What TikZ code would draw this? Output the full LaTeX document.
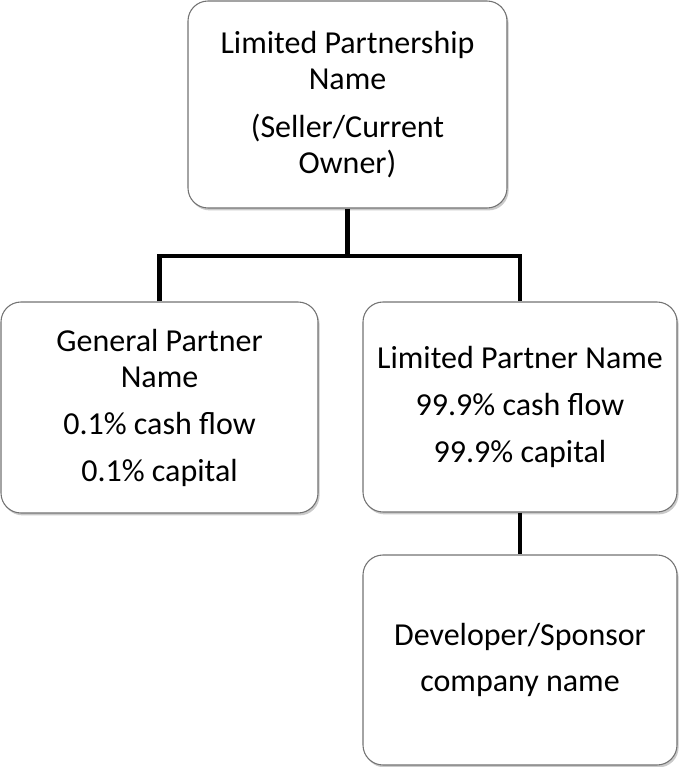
\documentclass[tikz,border=0pt]{standalone}
\usepackage{fontspec}
\setmainfont{Carlito}
\usetikzlibrary{shadows}
\begin{document}
\begin{tikzpicture}[x=0.75pt,y=-0.75pt,
  orgbox/.style={draw=black!55, line width=0.8pt, fill=white, rounded corners=15pt,
    align=center, inner sep=0pt, font=\fontsize{24}{27}\selectfont,
    drop shadow={shadow xshift=1.2pt, shadow yshift=-1.8pt, opacity=0.35, fill=black!60}},
  link/.style={line width=3.6pt, draw=black}]
\useasboundingbox (0,0) rectangle (679,767);
\node[orgbox, minimum width=239.25pt, minimum height=155.25pt] (top) at (347.5,104.5)
  {Limited Partnership\\Name\\[8.5pt](Seller/Current\\Owner)};
\node[orgbox, minimum width=237.75pt, minimum height=158.25pt] (gp) at (159.5,407.5)
  {General Partner\\Name\\[8.5pt]0.1\% cash flow\\[8pt]0.1\% capital};
\node[orgbox, minimum width=235.5pt, minimum height=157.5pt] (lp) at (520,407)
  {Limited Partner Name\\[8.5pt]99.9\% cash flow\\[8pt]99.9\% capital};
\node[orgbox, minimum width=235.5pt, minimum height=157.5pt] (dev) at (520,660)
  {Developer/Sponsor\\[8pt]company name};
\coordinate (hub) at (top.south |- 0,256);
\draw[link] (top.south) -- (hub);
\draw[link] (gp.north) |- (hub) -| (lp.north);
\draw[link] (lp.south) -- (dev.north);
\end{tikzpicture}
\end{document}
